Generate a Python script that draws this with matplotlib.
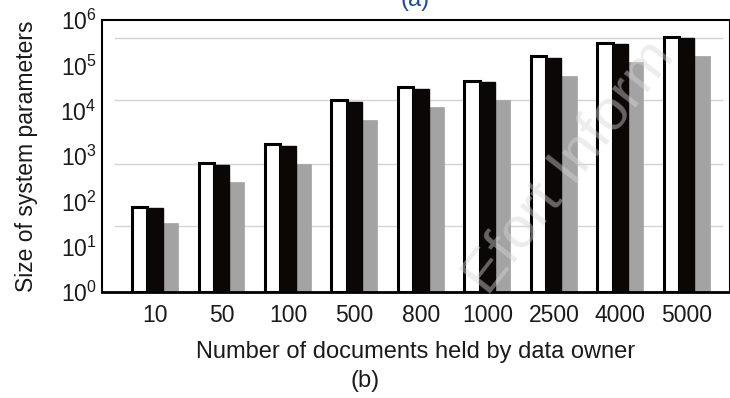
import matplotlib
matplotlib.use("Agg")
import matplotlib.pyplot as plt
import numpy as np

plt.rcParams["font.family"] = ["Liberation Sans", "DejaVu Sans"]
plt.rcParams["mathtext.fontset"] = "custom"
plt.rcParams["mathtext.rm"] = "Liberation Sans"
plt.rcParams["mathtext.it"] = "Liberation Sans"

# number of documents held by the data owner
docs = ["10", "50", "100", "500", "800", "1000", "2500", "4000", "5000"]

# sizes (three schemes)
white_vals = [75, 700, 1850, 17300, 33400, 45500, 162000, 314000, 425000]
black_vals = [71, 635, 1670, 15600, 30200, 43300, 147000, 297000, 404000]
gray_vals = [32, 268, 670, 6270, 12100, 17300, 58600, 120000, 162000]

y_ticks = [1, 10, 100, 1000, 10000, 100000, 1000000]
grid_vals = [10 ** 1.46, 10 ** 2.83, 10 ** 4.24, 10 ** 5.61]

fig = plt.figure(figsize=(7.3, 3.98), dpi=100)
ax = fig.add_axes([102 / 730, 1 - 292 / 398, 628 / 730, 272 / 398])

x = np.arange(len(docs))
w = 0.23

for g in grid_vals:
    ax.axhline(g, xmin=0.02, xmax=0.987, color="#d4d4d4", lw=1.0, zorder=0)

ax.bar(x - w, white_vals, w, bottom=1, color="white", edgecolor="black", linewidth=2.2, zorder=2)
ax.bar(x, black_vals, w, bottom=1, color="#0a0706", edgecolor="#0a0706", linewidth=1.0, zorder=3)
ax.bar(x + w, gray_vals, w, bottom=1, color="#a3a3a3", edgecolor="#a3a3a3", linewidth=0.5, zorder=2)

ax.set_yscale("log")
ax.set_ylim(1, 1e6)
ax.set_xlim(-0.797, 8.65)
ax.set_yticks(y_ticks)
ax.set_yticklabels([r"10$^{%d}$" % int(np.log10(v)) for v in y_ticks])
ax.minorticks_off()
ax.set_xticks(x)
ax.set_xticklabels(docs)
ax.tick_params(axis="both", length=0, labelsize=16.5, colors="#1a1a1a")
ax.tick_params(axis="y", pad=4)
ax.tick_params(axis="x", pad=9)

for side in ["top", "bottom", "left", "right"]:
    ax.spines[side].set_color("black")
ax.spines["bottom"].set_linewidth(2.0)
ax.spines["left"].set_linewidth(1.5)
ax.spines["top"].set_linewidth(1.5)
ax.spines["right"].set_linewidth(1.5)

ax.set_xlabel("Number of documents held by data owner", fontsize=17, labelpad=10, color="#1a1a1a")
ax.set_ylabel("Size of system parameters", fontsize=16.5, labelpad=16, color="#1a1a1a")

fig.text(365 / 730, 1 - 381 / 398, "(b)", fontsize=17, ha="center", va="center", color="#1a1a1a")
fig.text(415 / 730, 1 - 11 / 398, "(a)", fontsize=17, ha="center", va="bottom", color="#1a4a9a")

# faint watermark
fig.text(0.78, 0.58, "Efort Inform", fontsize=42, rotation=52, color="#d6d6d6",
         alpha=0.45, ha="center", va="center", zorder=10)

fig.savefig("out.png", dpi=100)
